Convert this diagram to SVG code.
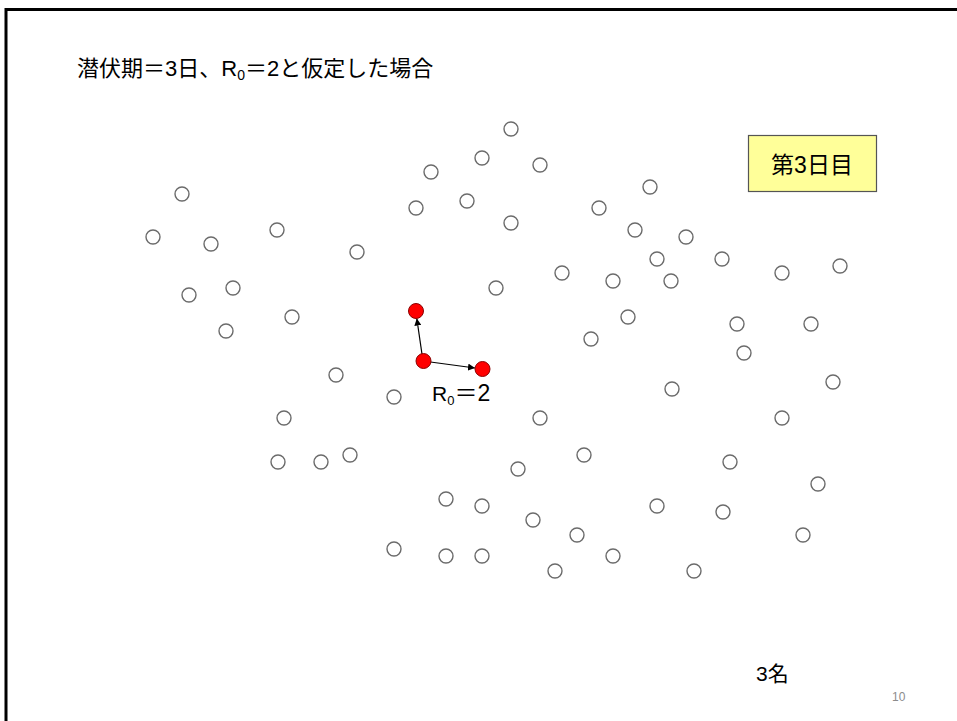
<svg xmlns="http://www.w3.org/2000/svg" width="957" height="721" viewBox="0 0 957 721">
<style>
.p{fill:#fff;stroke:#6b6b6b;stroke-width:1.4}
.inf{fill:#f00;stroke:#8b0000;stroke-width:1}
.t{font-family:"Liberation Sans","Noto Sans CJK JP",sans-serif;fill:#000}
.edge{stroke:#000;stroke-width:1.2;fill:none}
</style>
<defs>
<marker id="ah" viewBox="0 0 10 10" refX="10" refY="5" markerWidth="7" markerHeight="7" markerUnits="userSpaceOnUse" orient="auto">
<path d="M0,0 L10,5 L0,10 z" fill="#000"/>
</marker>
</defs>
<rect width="957" height="721" fill="#fff"/>
<path d="M6,721 V9.5 H957" fill="none" stroke="#000" stroke-width="3"/>
<text class="t" x="77" y="76" font-size="22">潜伏期＝3日、R<tspan font-size="14" dy="4">0</tspan><tspan dy="-4">＝2と仮定した場合</tspan></text>
<g id="day">
<rect x="748.5" y="135.5" width="128" height="56" fill="#ffff99" stroke="#555" stroke-width="1.2"/>
<text class="t" x="812" y="173" font-size="23" text-anchor="middle">第3日目</text>
</g>
<g id="people">
<circle class="p" cx="511" cy="129" r="7"/>
<circle class="p" cx="482" cy="158" r="7"/>
<circle class="p" cx="540" cy="165" r="7"/>
<circle class="p" cx="431" cy="172" r="7"/>
<circle class="p" cx="182" cy="194" r="7"/>
<circle class="p" cx="650" cy="187" r="7"/>
<circle class="p" cx="416" cy="208" r="7"/>
<circle class="p" cx="467" cy="201" r="7"/>
<circle class="p" cx="599" cy="208" r="7"/>
<circle class="p" cx="153" cy="237" r="7"/>
<circle class="p" cx="211" cy="244" r="7"/>
<circle class="p" cx="277" cy="230" r="7"/>
<circle class="p" cx="511" cy="223" r="7"/>
<circle class="p" cx="635" cy="230" r="7"/>
<circle class="p" cx="686" cy="237" r="7"/>
<circle class="p" cx="357" cy="252" r="7"/>
<circle class="p" cx="657" cy="259" r="7"/>
<circle class="p" cx="722" cy="259" r="7"/>
<circle class="p" cx="840" cy="266" r="7"/>
<circle class="p" cx="562" cy="273" r="7"/>
<circle class="p" cx="613" cy="281" r="7"/>
<circle class="p" cx="671" cy="281" r="7"/>
<circle class="p" cx="782" cy="273" r="7"/>
<circle class="p" cx="233" cy="288" r="7"/>
<circle class="p" cx="189" cy="295" r="7"/>
<circle class="p" cx="496" cy="288" r="7"/>
<circle class="p" cx="292" cy="317" r="7"/>
<circle class="p" cx="628" cy="317" r="7"/>
<circle class="p" cx="737" cy="324" r="7"/>
<circle class="p" cx="811" cy="324" r="7"/>
<circle class="p" cx="226" cy="331" r="7"/>
<circle class="p" cx="591" cy="339" r="7"/>
<circle class="p" cx="744" cy="353" r="7"/>
<circle class="p" cx="336" cy="375" r="7"/>
<circle class="p" cx="833" cy="382" r="7"/>
<circle class="p" cx="394" cy="397" r="7"/>
<circle class="p" cx="672" cy="389" r="7"/>
<circle class="p" cx="284" cy="418" r="7"/>
<circle class="p" cx="540" cy="418" r="7"/>
<circle class="p" cx="782" cy="418" r="7"/>
<circle class="p" cx="278" cy="462" r="7"/>
<circle class="p" cx="321" cy="462" r="7"/>
<circle class="p" cx="350" cy="455" r="7"/>
<circle class="p" cx="584" cy="455" r="7"/>
<circle class="p" cx="518" cy="469" r="7"/>
<circle class="p" cx="730" cy="462" r="7"/>
<circle class="p" cx="818" cy="484" r="7"/>
<circle class="p" cx="446" cy="499" r="7"/>
<circle class="p" cx="482" cy="506" r="7"/>
<circle class="p" cx="657" cy="506" r="7"/>
<circle class="p" cx="723" cy="512" r="7"/>
<circle class="p" cx="533" cy="520" r="7"/>
<circle class="p" cx="577" cy="535" r="7"/>
<circle class="p" cx="803" cy="535" r="7"/>
<circle class="p" cx="394" cy="549" r="7"/>
<circle class="p" cx="446" cy="556" r="7"/>
<circle class="p" cx="482" cy="556" r="7"/>
<circle class="p" cx="613" cy="556" r="7"/>
<circle class="p" cx="555" cy="571" r="7"/>
<circle class="p" cx="694" cy="571" r="7"/>
</g>
<g id="connectors">
<line class="edge" x1="423" y1="361" x2="416.8" y2="318.5" marker-end="url(#ah)"/>
<line class="edge" x1="423" y1="361" x2="475" y2="368" marker-end="url(#ah)"/>
</g>
<g id="src"><circle class="inf" cx="423.5" cy="361" r="7.5"/></g>
<g id="inf1"><circle class="inf" cx="416" cy="311" r="7.5"/></g>
<g id="inf2"><circle class="inf" cx="482.5" cy="369" r="7.5"/></g>
<text class="t" x="432" y="401" font-size="21">R<tspan font-size="13" dy="4">0</tspan><tspan dy="-4" font-size="23">＝2</tspan></text>
<text class="t" x="756" y="681" font-size="21">3名</text>
<text class="t" x="892" y="701" font-size="12" style="fill:#8c8c8c">10</text>
</svg>
